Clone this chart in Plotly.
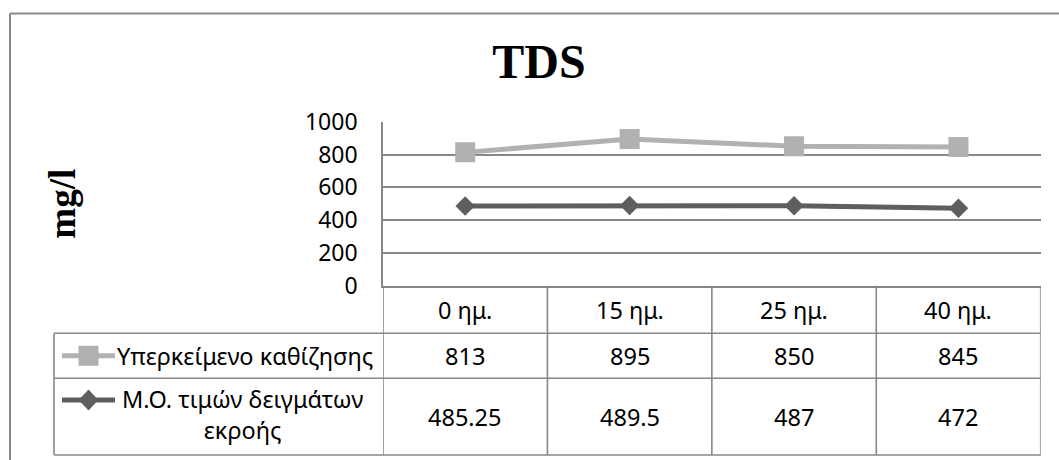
import plotly.graph_objects as go

# --- data ---
days = ["0 ημ.", "15 ημ.", "25 ημ.", "40 ημ."]
supernatant_name = "Υπερκείμενο καθίζησης"
supernatant = [813, 895, 850, 845]
effluent_name = "Μ.Ο. τιμών δειγμάτων<br>εκροής"
effluent = [485.25, 489.5, 487, 472]
y_ticks = [0, 200, 400, 600, 800, 1000]

W, H = 1059, 460
LIGHT = "#b1b1b1"
DARK = "#5e5e5e"
GRID = "#878787"
FONT = "Noto Sans"

# layout in pixels
plot_left, plot_right = 383, 1040.7
plot_top, plot_bottom = 121.7, 285.7
row_tops = [285.7, 333.3, 378.3, 455.0]   # header / row1 / row2 / bottom
legend_left = 54


def px(xpix):
    return xpix / W


def py(ypix):
    return 1 - ypix / H


fig = go.Figure()

fig.add_trace(go.Scatter(
    x=days, y=supernatant, mode="lines+markers", name="Υπερκείμενο καθίζησης",
    line=dict(color=LIGHT, width=5),
    marker=dict(symbol="square", size=20, color=LIGHT),
    showlegend=False,
))
fig.add_trace(go.Scatter(
    x=days, y=effluent, mode="lines+markers", name="Μ.Ο. τιμών δειγμάτων εκροής",
    line=dict(color=DARK, width=5),
    marker=dict(symbol="diamond", size=15, color=DARK),
    showlegend=False,
))

shapes = []
line_style = dict(color=GRID, width=1.6)

# outer chart frame (top and left edges fall inside the page)
frame = dict(color=GRID, width=2)
shapes.append(dict(type="line", xref="paper", yref="paper",
                   x0=px(10), x1=1, y0=py(13.5), y1=py(13.5), line=frame))
shapes.append(dict(type="line", xref="paper", yref="paper",
                   x0=px(10), x1=px(10), y0=0, y1=py(13.5), line=frame))

# table: horizontal rules spanning legend column + data columns
for yp in row_tops[1:]:
    shapes.append(dict(type="line", xref="paper", yref="paper",
                       x0=px(legend_left), x1=px(plot_right), y0=py(yp), y1=py(yp),
                       line=line_style))
# legend column left edge
shapes.append(dict(type="line", xref="paper", yref="paper",
                   x0=px(legend_left), x1=px(legend_left),
                   y0=py(row_tops[1]), y1=py(row_tops[3]), line=line_style))
# column boundaries below the axis
for i in range(len(days) + 1):
    xb = i - 0.5
    shapes.append(dict(type="line", xref="x", yref="paper",
                       x0=xb, x1=xb, y0=py(row_tops[0]), y1=py(row_tops[3]),
                       line=line_style))

# legend keys in the table's first column
row1_mid = (row_tops[1] + row_tops[2]) / 2
key_cx = 88.5


def key_line(yk, col):
    return dict(type="line", xref="paper", yref="paper",
                x0=px(62), x1=px(115), y0=py(yk), y1=py(yk),
                line=dict(color=col, width=5))


def square_path(cx, cy, h):
    pts = [(cx - h, cy - h), (cx + h, cy - h), (cx + h, cy + h), (cx - h, cy + h)]
    return "M " + " L ".join(f"{px(a):.6f},{py(b):.6f}" for a, b in pts) + " Z"


def diamond_path(cx, cy, hw, hh):
    pts = [(cx, cy - hh), (cx + hw, cy), (cx, cy + hh), (cx - hw, cy)]
    return "M " + " L ".join(f"{px(a):.6f},{py(b):.6f}" for a, b in pts) + " Z"


shapes.append(key_line(row1_mid, LIGHT))
shapes.append(dict(type="path", xref="paper", yref="paper",
                   path=square_path(key_cx, row1_mid, 10),
                   fillcolor=LIGHT, line=dict(width=0)))
shapes.append(key_line(400, DARK))
shapes.append(dict(type="path", xref="paper", yref="paper",
                   path=diamond_path(key_cx, 400, 9.8, 10.5),
                   fillcolor=DARK, line=dict(width=0)))

annotations = []
tfont = dict(family=FONT, size=23.5, color="#000000")
head_mid = (row_tops[0] + row_tops[1]) / 2
row2_mid = (row_tops[2] + row_tops[3]) / 2
for i, d in enumerate(days):
    annotations.append(dict(x=d, y=py(head_mid), xref="x", yref="paper", text=d,
                            showarrow=False, font=tfont, xanchor="center", yanchor="middle"))
    annotations.append(dict(x=d, y=py(row1_mid), xref="x", yref="paper",
                            text=f"{supernatant[i]:g}", showarrow=False, font=tfont,
                            xanchor="center", yanchor="middle"))
    annotations.append(dict(x=d, y=py(row2_mid), xref="x", yref="paper",
                            text=f"{effluent[i]:g}", showarrow=False, font=tfont,
                            xanchor="center", yanchor="middle"))

annotations.append(dict(x=px(115), y=py(row1_mid), xref="paper", yref="paper",
                        text=supernatant_name, showarrow=False, font=tfont,
                        xanchor="left", yanchor="middle"))
annotations.append(dict(x=px(242), y=py(414), xref="paper", yref="paper",
                        text=effluent_name, showarrow=False, font=tfont, align="center",
                        xanchor="center", yanchor="middle"))

fig.update_layout(
    width=W, height=H, autosize=False,
    margin=dict(l=0, r=0, t=0, b=0, pad=0, autoexpand=False),
    paper_bgcolor="white", plot_bgcolor="rgba(0,0,0,0)",
    title=dict(text="<b>TDS</b>", x=539 / W, xanchor="center",
               y=py(61), yanchor="middle", yref="paper", automargin=False,
               font=dict(family="Liberation Serif", size=48, color="#000000")),
    xaxis=dict(domain=[px(plot_left), px(plot_right)], type="category",
               categoryorder="array", categoryarray=days,
               range=[-0.5, len(days) - 0.5], showticklabels=False,
               showgrid=False, zeroline=False, showline=True, automargin=False,
               linecolor=GRID, linewidth=1.6, ticks="", fixedrange=True),
    yaxis=dict(domain=[py(plot_bottom), py(plot_top)], range=[0, 1000],
               tickvals=y_ticks, showgrid=True, gridcolor=GRID, gridwidth=1.6,
               zeroline=False, showline=True, linecolor=GRID, linewidth=1.6,
               ticks="", ticklabelstandoff=19, automargin=False,
               tickfont=dict(family=FONT, size=23, color="#000000"),
               title=dict(text="<b>mg/l</b>", standoff=218,
                          font=dict(family="Liberation Serif", size=37, color="#000000")),
               fixedrange=True),
    shapes=shapes,
    annotations=annotations,
    showlegend=False,
)

fig.write_html("out.html", config={"displayModeBar": False})
